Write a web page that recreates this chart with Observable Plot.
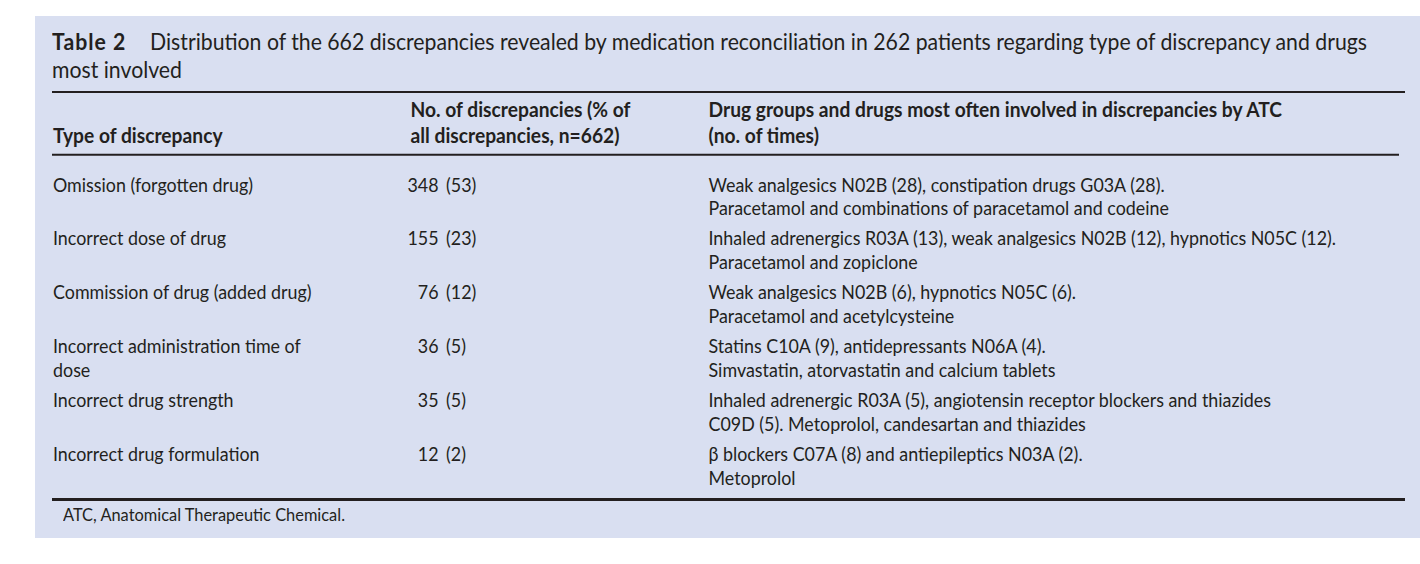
<!DOCTYPE html>
<html>
<head>
<meta charset="utf-8">
<script src="https://cdn.jsdelivr.net/npm/d3@7"></script>
<script src="https://cdn.jsdelivr.net/npm/@observablehq/plot@0.6"></script>
<style>
  html, body { margin: 0; padding: 0; background: #ffffff; }
  #panel {
    position: absolute; left: 35px; top: 16px; width: 1385px; height: 522px;
    background: #d9dff1; color: #231f20; font-family: Lato, sans-serif;
    overflow: hidden;
  }
  #title {
    position: absolute; left: 17px; top: 11px; font-size: 23.3px; line-height: 28px;
    white-space: nowrap; transform-origin: 0 0;
  }
  #title b { margin-right: 26px; letter-spacing: 1.1px; }
  #chart { position: absolute; left: 0; top: 70px; }
  #foot {
    position: absolute; left: 28px; top: 489px; font-size: 17.7px; line-height: 20px;
    white-space: nowrap; transform-origin: 0 0;
  }
</style>
</head>
<body>
<div id="panel">
  <div id="title"></div>
  <div id="chart"></div>
  <div id="foot"></div>
</div>
<script>
// ---------- data ----------
const tableLabel = "Table 2";
const titleLines = [
  "Distribution of the 662 discrepancies revealed by medication reconciliation in 262 patients regarding type of discrepancy and drugs",
  "most involved"
];
const headerType = ["", "Type of discrepancy"];
const headerCount = ["No. of discrepancies (% of", "all discrepancies, n=662)"];
const headerDrugs = ["Drug groups and drugs most often involved in discrepancies by ATC", "(no. of times)"];

const discrepancyTypes = [
  ["Omission (forgotten drug)"],
  ["Incorrect dose of drug"],
  ["Commission of drug (added drug)"],
  ["Incorrect administration time of", "dose"],
  ["Incorrect drug strength"],
  ["Incorrect drug formulation"]
];
const counts = [348, 155, 76, 36, 35, 12];
const percents = [53, 23, 12, 5, 5, 2];
const drugsInvolved = [
  ["Weak analgesics N02B (28), constipation drugs G03A (28).", "Paracetamol and combinations of paracetamol and codeine"],
  ["Inhaled adrenergics R03A (13), weak analgesics N02B (12), hypnotics N05C (12).", "Paracetamol and zopiclone"],
  ["Weak analgesics N02B (6), hypnotics N05C (6).", "Paracetamol and acetylcysteine"],
  ["Statins C10A (9), antidepressants N06A (4).", "Simvastatin, atorvastatin and calcium tablets"],
  ["Inhaled adrenergic R03A (5), angiotensin receptor blockers and thiazides", "C09D (5). Metoprolol, candesartan and thiazides"],
  ["\u03B2 blockers C07A (8) and antiepileptics N03A (2).", "Metoprolol"]
];
const footnote = "ATC, Anatomical Therapeutic Chemical.";

// ---------- layout (not data) ----------
const W = 1385, H = 422;
const ROW = 53.9;             // px per body row
const LINE = 23.5 / ROW;      // second line offset in row units
const HEAD1 = -1.373, HEAD2 = -0.909;   // header baselines in row units
const y0 = 105;               // pixel baseline of first body row inside svg
const colX = {type: 17.5, count: 375, countEnd: 403, pct: 410.5, drugs: 673};
const rules = [
  {y: -1.846, x1: 17, x2: 1370, w: 2},
  {y: -0.681, x1: 17, x2: 1364, w: 2},
  {y: 5.714, x1: 17, x2: 1370, w: 3}
];
const FS = 20;
// target rendered widths (px) used to condense the font like the original
const TARGET = {body: 628, head: 574, title: 1315, foot: 282};

// title & footnote
const t = document.getElementById("title");
const l1 = document.createElement("span");
const b = document.createElement("b"); b.textContent = tableLabel; l1.appendChild(b);
l1.appendChild(document.createTextNode(titleLines[0]));
t.appendChild(l1);
t.appendChild(document.createElement("br"));
t.appendChild(document.createTextNode(titleLines[1]));
const f = document.getElementById("foot");
const fs = document.createElement("span"); fs.textContent = footnote; f.appendChild(fs);

// ---------- cells ----------
const headerCells = [];
[["type", headerType], ["count", headerCount], ["drugs", headerDrugs]].forEach(([col, lines]) => {
  lines.forEach((txt, j) => { if (txt) headerCells.push({col, y: j ? HEAD2 : HEAD1, text: txt}); });
});
const bodyCells = [];
discrepancyTypes.forEach((lines, i) => lines.forEach((txt, j) => bodyCells.push({col: "type", y: i + j * LINE, text: txt})));
drugsInvolved.forEach((lines, i) => lines.forEach((txt, j) => bodyCells.push({col: "drugs", y: i + j * LINE, text: txt})));
const numRows = counts.map((c, i) => ({row: i, count: c, pct: percents[i]}));

const yDomain = [-y0 / ROW, (H - y0) / ROW];

const chart = Plot.plot({
  width: W, height: H,
  margin: 0,
  x: {type: "linear", domain: [0, W], range: [0, W], axis: null},
  y: {type: "linear", domain: yDomain, range: [0, H], axis: null},
  style: {background: "transparent", color: "#231f20", fontFamily: "Lato, sans-serif"},
  marks: [
    Plot.ruleY(rules, {y: "y", x1: "x1", x2: "x2", strokeWidth: d => d.w, stroke: "#231f20"}),
    Plot.text(headerCells, {x: d => colX[d.col], y: "y", text: "text", textAnchor: "start",
      lineAnchor: "bottom", fontSize: FS, fontWeight: "bold", fill: "#231f20"}),
    Plot.text(bodyCells, {x: d => colX[d.col], y: "y", text: "text", textAnchor: "start",
      lineAnchor: "bottom", fontSize: FS, fill: "#231f20"}),
    Plot.text(numRows, {x: () => colX.countEnd, y: "row", text: d => String(d.count), textAnchor: "end",
      lineAnchor: "bottom", fontSize: FS, fill: "#231f20"}),
    Plot.text(numRows, {x: () => colX.pct, y: "row", text: d => `(${d.pct})`, textAnchor: "start",
      lineAnchor: "bottom", fontSize: FS, fill: "#231f20"})
  ]
});
document.getElementById("chart").appendChild(chart);

// ---------- condense text horizontally (the original uses a condensed face) ----------
const groups = chart.querySelectorAll('g[aria-label="text"]');
const allTexts = Array.from(chart.querySelectorAll("text"));
function widthOf(str) {
  const el = allTexts.find(e => e.textContent === str);
  return el ? el.getComputedTextLength() : 0;
}
const sBody = TARGET.body / (widthOf(drugsInvolved[1][0]) || TARGET.body);
const sHead = TARGET.head / (widthOf(headerDrugs[0]) || TARGET.head);
groups.forEach((g, gi) => {
  const s = gi === 0 ? sHead : sBody;
  g.querySelectorAll("text").forEach(el => {
    const tr = el.getAttribute("transform") || "";
    el.setAttribute("transform", `${tr} scale(${s},1)`);
  });
});
const sTitle = TARGET.title / l1.getBoundingClientRect().width;
t.style.transform = `scaleX(${sTitle})`;
const sFoot = TARGET.foot / fs.getBoundingClientRect().width;
f.style.transform = `scaleX(${sFoot})`;
</script>
</body>
</html>
